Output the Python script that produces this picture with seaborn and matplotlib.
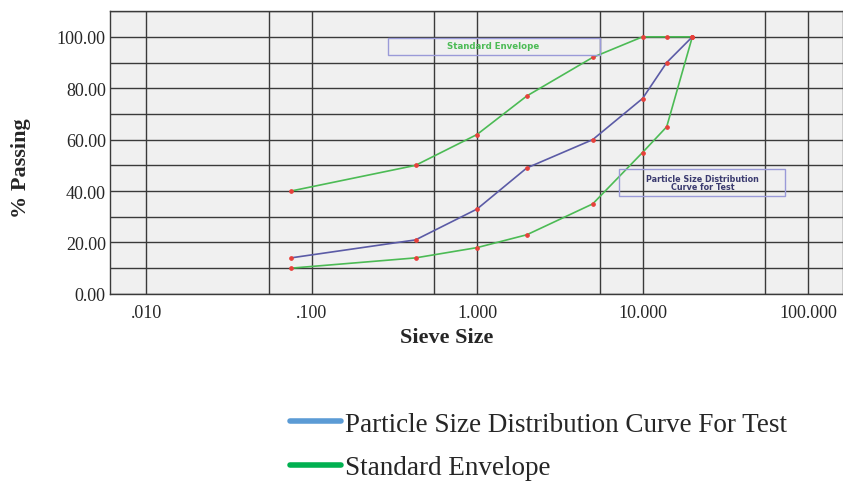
import matplotlib
matplotlib.use("Agg")
import matplotlib.pyplot as plt
import seaborn as sns
import pandas as pd
from matplotlib.lines import Line2D
from matplotlib.patches import Rectangle

# ---- data ----
sieve_sizes = [0.075, 0.425, 1.0, 2.0, 5.0, 10.0, 14.0, 20.0]
test_passing = [14, 21, 33, 49, 60, 76, 90, 100]
env_upper = [40, 50, 62, 77, 92, 100, 100, 100]
env_lower = [10, 14, 18, 23, 35, 55, 65, 100]
x_ticks = [0.01, 0.1, 1.0, 10.0, 100.0]
x_tick_labels = [".010", ".100", "1.000", "10.000", "100.000"]
x_minor_grid = [0.055, 0.55, 5.5, 55.0]
y_ticks = [0, 20, 40, 60, 80, 100]
y_tick_labels = ["0.00", "20.00", "40.00", "60.00", "80.00", "100.00"]
legend_labels = ["Particle Size Distribution Curve For Test", "Standard Envelope"]

sns.set_style("white", {"axes.facecolor": "#f0f0f0"})
plt.rcParams['font.family'] = ['Liberation Serif', 'DejaVu Serif']

fig = plt.figure(figsize=(8.43, 4.85), dpi=100)
ax = fig.add_axes([0.1305, 0.392, 0.8695, 0.583])

df_test = pd.DataFrame({"size": sieve_sizes, "passing": test_passing})
df_up = pd.DataFrame({"size": sieve_sizes, "passing": env_upper})
df_lo = pd.DataFrame({"size": sieve_sizes, "passing": env_lower})

blue = "#5b5ba6"
green = "#4cbb55"
mk = dict(marker="o", markersize=2.6, markerfacecolor="#e8403a", markeredgecolor="#e8403a")
sns.lineplot(data=df_up, x="size", y="passing", color=green, lw=1.2, ax=ax, **mk)
sns.lineplot(data=df_lo, x="size", y="passing", color=green, lw=1.2, ax=ax, **mk)
sns.lineplot(data=df_test, x="size", y="passing", color=blue, lw=1.2, ax=ax, **mk)

ax.set_xscale("log")
ax.set_xlim(0.00606, 162.7)
ax.set_ylim(0, 110)

gc = "#3a3a3a"
for v in x_ticks + x_minor_grid:
    ax.axvline(v, color=gc, lw=1.0, zorder=0.5)
for v in range(0, 111, 10):
    ax.axhline(v, color=gc, lw=1.0, zorder=0.5)

ax.set_xticks(x_ticks)
ax.set_xticklabels(x_tick_labels)
ax.minorticks_off()
ax.set_yticks(y_ticks)
ax.set_yticklabels(y_tick_labels)
ax.tick_params(length=0, labelsize=13)
ax.tick_params(axis="x", pad=7)
ax.tick_params(axis="y", pad=3)
for s in ax.spines.values():
    s.set_color(gc)
    s.set_linewidth(1.0)

ax.set_xlabel("Sieve Size", fontsize=16, fontweight="bold")
ax.xaxis.set_label_coords(0.46, -0.118)
ax.set_ylabel("% Passing", fontsize=16, fontweight="bold")
ax.yaxis.set_label_coords(-0.108, 0.447)

# annotation boxes
ax.add_patch(Rectangle((0.29, 93.0), 5.5 - 0.29, 6.6, fill=False, ec="#9a9ad8", lw=1.0, zorder=3))
ax.text(1.25, 96.6, "Standard Envelope", color="#4cbb55", fontsize=6.2, fontweight="bold",
        family="DejaVu Sans", ha="center", va="center", zorder=4)
ax.add_patch(Rectangle((7.2, 37.9), 72.6 - 7.2, 10.5, fill=False, ec="#9a9ad8", lw=1.0, zorder=3))
ax.text(23.0, 43.2, "Particle Size Distribution\nCurve for Test", color="#3b3b70", fontsize=5.8,
        fontweight="bold", family="DejaVu Sans", ha="center", va="center", linespacing=0.9, zorder=4)

handles = [Line2D([], [], color="#5b9bd5", lw=4),
           Line2D([], [], color="#00b050", lw=4)]
fig.legend(handles, legend_labels, loc="upper left", bbox_to_anchor=(290 / 843, 0.149),
           frameon=False, fontsize=19.5, handlelength=1.88, handletextpad=0.14,
           labelspacing=0.68, borderaxespad=0, borderpad=0)

fig.savefig("out.png", dpi=100, facecolor="white")
